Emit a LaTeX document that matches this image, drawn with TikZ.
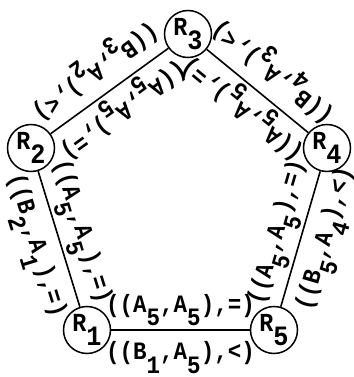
\documentclass[tikz,border=0pt]{standalone}
\usepackage{fontspec}
\setmonofont[FakeStretch=0.9]{Liberation Mono}
\usepackage{tikz}
\usetikzlibrary{positioning}
\definecolor{cInk}{HTML}{000000}
\newcommand{\lo}[1]{\raisebox{-0.55em}{#1}}
\newcommand{\lobig}[1]{\raisebox{-0.55em}{\fontsize{28bp}{28bp}\selectfont #1}}
\tikzset{
  rnode/.style  = {circle, draw=cInk, line width=1.5bp, minimum size=47bp, inner sep=0pt,
                   font=\fontsize{26bp}{28bp}\ttfamily\bfseries},
  edge/.style   = {draw=cInk, line width=1.6bp},
  inlab/.style  = {sloped, allow upside down, above=3bp, inner sep=0pt,
                   font=\fontsize{25bp}{28bp}\ttfamily\bfseries},
  outlab/.style = {sloped, allow upside down, below=11bp, inner sep=0pt,
                   font=\fontsize{25bp}{28bp}\ttfamily\bfseries},
}

\begin{document}
\begin{tikzpicture}[x=1bp, y=1bp]
  \useasboundingbox (0,0) rectangle (354,377);
  \node[rnode] (r1) at (87,47) {R\lobig{1}};
  \node[rnode] (r5) at (274,47) {R\lobig{5}};
  \node[rnode] (r4) at (327,229) {R\lobig{4}};
  \node[rnode] (r3) at (188,343) {R\lobig{3}};
  \node[rnode] (r2) at (31,229) {R\lobig{2}};

  % counterclockwise, inner label on the left
  \draw[edge] (r1) -- node[inlab]{((A\lo{5},A\lo{5}),=)} node[outlab]{((B\lo{1},A\lo{5}),<)} (r5);
  \draw[edge] (r5) -- node[inlab]{((A\lo{5},A\lo{5}),=)} node[outlab,pos=0.55]{((B\lo{5},A\lo{4}),<)} (r4);
  \draw[edge] (r4) -- node[inlab]{((A\lo{5},A\lo{5}),=)} node[outlab]{((B\lo{4},A\lo{3}),<)} (r3);
  \draw[edge] (r3) -- node[inlab]{((A\lo{5},A\lo{5}),=)} node[outlab]{((B\lo{3},A\lo{2}),<)} (r2);
  \draw[edge] (r2) -- node[inlab]{((A\lo{5},A\lo{5}),=)} node[outlab]{((B\lo{2},A\lo{1}),=)} (r1);
\end{tikzpicture}
\end{document}
